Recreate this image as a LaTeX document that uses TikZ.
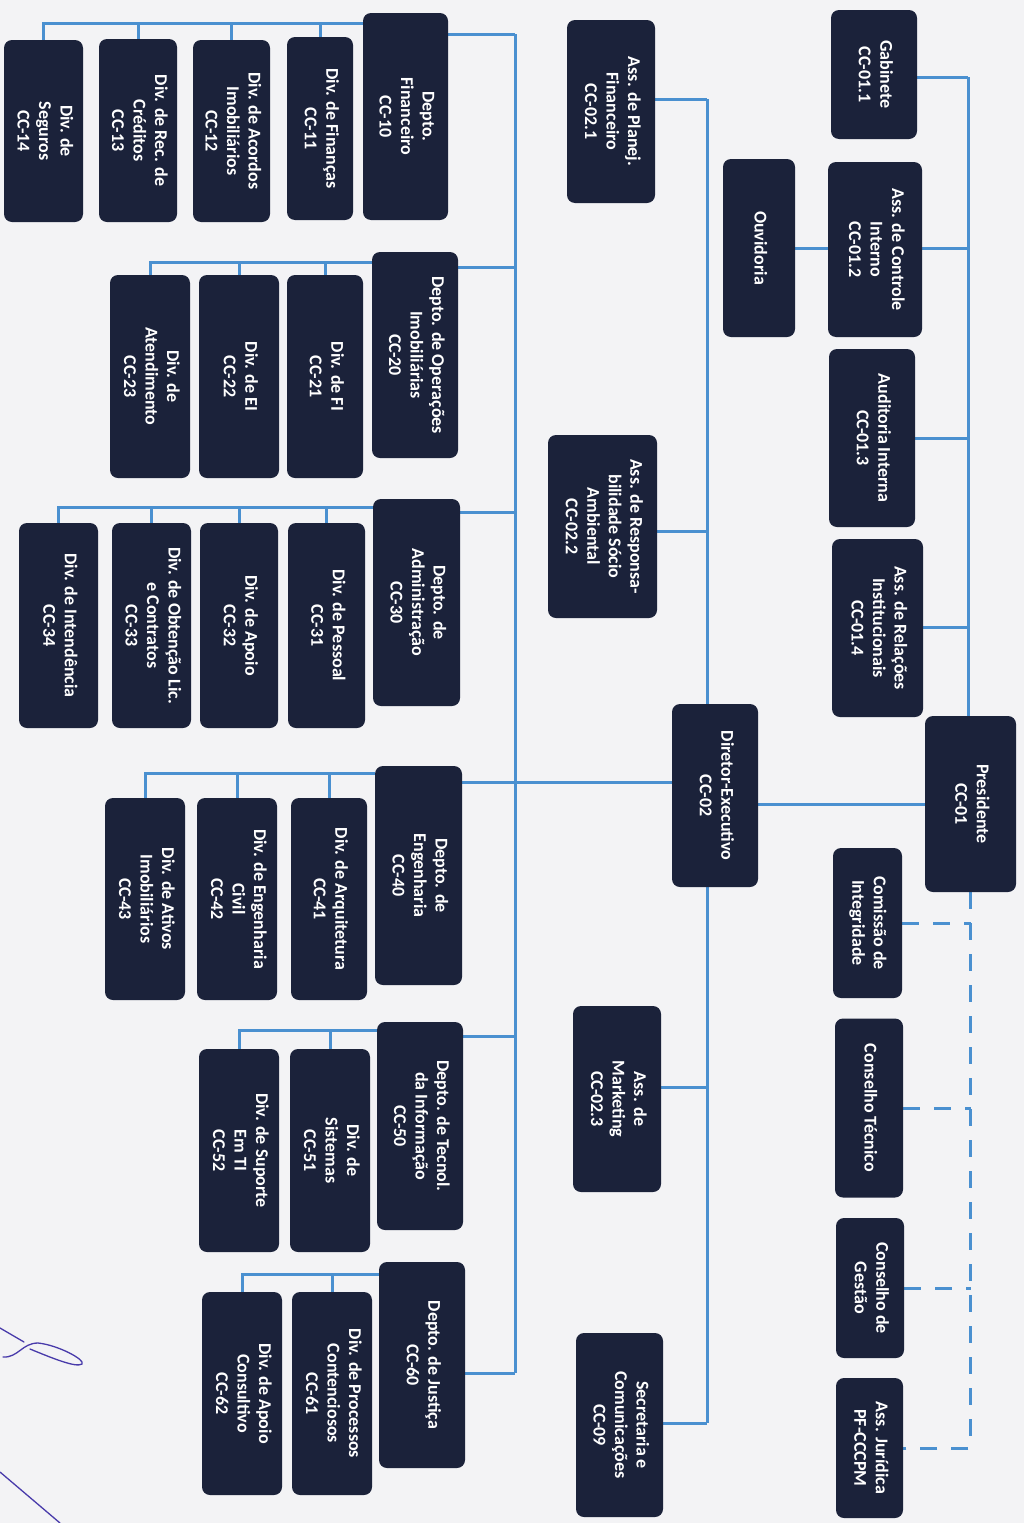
\documentclass[tikz,border=0pt]{standalone}
\usepackage{fontspec}
\usepackage{graphicx}
\setmainfont{Carlito}
\usetikzlibrary{calc}
\definecolor{navy}{RGB}{27,34,58}
\definecolor{lblue}{RGB}{74,144,208}
\definecolor{bgc}{RGB}{243,243,245}
\definecolor{ink}{RGB}{72,58,170}
\pgfdeclarelayer{back}
\pgfdeclarelayer{lines}
\pgfsetlayers{back,lines,main}
\newcommand{\boxtxt}[1]{\rotatebox{-90}{\begin{tabular}{@{}c@{}}#1\end{tabular}}}
\newcommand{\orgbox}[6]{\node[org, minimum width=#4pt, minimum height=#5pt] (#1) at (#2,#3) {\boxtxt{#6}};}
\tikzset{
  org/.style={rectangle, rounded corners=8pt, fill=navy, text=white, inner sep=0pt,
    font=\fontsize{18}{21.5}\selectfont\bfseries},
  conn/.style={draw=lblue, line width=3pt},
  dconn/.style={conn, dash pattern=on 17pt off 14pt}
}
\begin{document}
\begin{tikzpicture}[x=1pt,y=-1pt]
\begin{pgfonlayer}{back}
\fill[bgc] (0,0) rectangle (1024,1523);
\end{pgfonlayer}
\useasboundingbox (0,0) rectangle (1024,1523);

% ---------- President column ----------
\orgbox{pres}{970.5}{804}{91}{176}{Presidente\\CC-01}
\orgbox{gab}{874}{74.5}{86}{129}{Gabinete\\CC-01.1}
\orgbox{aci}{875}{249.5}{94}{175}{Ass. de Controle\\Interno\\CC-01.2}
\orgbox{ouv}{759}{248}{72}{178}{Ouvidoria}
\orgbox{aud}{872}{438}{86}{178}{Auditoria Interna\\CC-01.3}
\orgbox{ari}{877.5}{628}{91}{178}{Ass. de Relações\\Institucionais\\CC-01.4}
\orgbox{com}{867.5}{923}{69}{150}{Comissão de\\Integridade}
\orgbox{ct}{869}{1108}{68}{179}{Conselho Técnico}
\orgbox{cg}{870}{1288}{68}{140}{Conselho de\\Gestão}
\orgbox{aj}{869.5}{1448}{67}{140}{Ass. Jurídica\\PF-CCCPM}

% ---------- Director column ----------
\orgbox{dir}{715}{795.5}{86}{183}{Diretor-Executivo\\CC-02}
\orgbox{a021}{611}{111.5}{88}{183}{Ass. de Planej.\\Financeiro\\CC-02.1}
\orgbox{a022}{602.5}{526.5}{109}{183}{Ass. de Responsa-\\bilidade Sócio\\Ambiental\\CC-02.2}
\orgbox{a023}{617}{1099}{88}{186}{Ass. de\\Marketing\\CC-02.3}
\orgbox{sec}{619.5}{1425}{87}{184}{Secretaria e\\Comunicações\\CC-09}

% ---------- Departments ----------
\orgbox{fin}{405.5}{116.5}{85}{207}{Depto.\\Financeiro\\CC-10}
\orgbox{d11}{320}{128.5}{66}{183}{Div. de Finanças\\CC-11}
\orgbox{d12}{231.5}{131}{77}{182}{Div. de Acordos\\Imobiliários\\CC-12}
\orgbox{d13}{138}{130.5}{78}{183}{Div. de Rec. de\\Créditos\\CC-13}
\orgbox{d14}{43.5}{131}{79}{182}{Div. de\\Seguros\\CC-14}

\orgbox{op}{415}{355}{86}{206}{Depto. de Operações\\Imobiliárias\\CC-20}
\orgbox{d21}{325}{376.5}{76}{203}{Div. de FI\\CC-21}
\orgbox{d22}{239}{376.5}{80}{203}{Div. de EI\\CC-22}
\orgbox{d23}{150}{376.5}{80}{203}{Div. de\\Atendimento\\CC-23}

\orgbox{adm}{416.5}{602.5}{87}{207}{Depto. de\\Administração\\CC-30}
\orgbox{d31}{326.5}{625.5}{77}{205}{Div. de Pessoal\\CC-31}
\orgbox{d32}{239}{625.5}{78}{205}{Div. de Apoio\\CC-32}
\orgbox{d33}{151.5}{625.5}{79}{205}{Div. de Obtenção Lic.\\e Contratos\\CC-33}
\orgbox{d34}{58.5}{625.5}{79}{205}{Div. de Intendência\\CC-34}

\orgbox{eng}{418.5}{875.5}{87}{219}{Depto. de\\Engenharia\\CC-40}
\orgbox{d41}{329}{899}{76}{202}{Div. de Arquitetura\\CC-41}
\orgbox{d42}{237}{899}{80}{202}{Div. de Engenharia\\Civil\\CC-42}
\orgbox{d43}{145}{899}{80}{202}{Div. de Ativos\\Imobiliários\\CC-43}

\orgbox{ti}{420}{1126}{86}{208}{Depto. de Tecnol.\\da Informação\\CC-50}
\orgbox{d51}{330}{1150.5}{80}{203}{Div. de\\Sistemas\\CC-51}
\orgbox{d52}{239}{1150.5}{80}{203}{Div. de Suporte\\Em TI\\CC-52}

\orgbox{jus}{422}{1365}{86}{206}{Depto. de Justiça\\CC-60}
\orgbox{d61}{332}{1393.5}{80}{203}{Div. de Processos\\Contenciosos\\CC-61}
\orgbox{d62}{242}{1393.5}{80}{203}{Div. de Apoio\\Consultivo\\CC-62}

% ---------- junction coordinates ----------
\coordinate (b1) at (0,23);
\coordinate (b2) at (0,262);
\coordinate (b3) at (0,507);
\coordinate (b4) at (0,773);
\coordinate (b5) at (0,1030);
\coordinate (b6) at (0,1274);
\coordinate (m1) at (515,34);
\coordinate (m2) at (515,267);
\coordinate (m3) at (515,512);
\coordinate (m4) at (515,782);
\coordinate (m5) at (515,1036);
\coordinate (m6) at (515,1373);
\coordinate (dtop) at (707,99);
\coordinate (da2) at (707,531);
\coordinate (da3) at (707,1087);
\coordinate (dbot) at (707,1423);
\coordinate (ptop) at (968,77);
\coordinate (pj2) at (968,248);
\coordinate (pj3) at (968,438);
\coordinate (pj4) at (968,627);

\begin{pgfonlayer}{lines}
% department buses
\draw[conn] (fin.west |- b1) -| (d14.north);
\foreach \c in {d11,d12,d13} \draw[conn] (\c.north) -- (\c.north |- b1);
\draw[conn] (op.west |- b2) -| (d23.north);
\foreach \c in {d21,d22} \draw[conn] (\c.north) -- (\c.north |- b2);
\draw[conn] (adm.west |- b3) -| (d34.north);
\foreach \c in {d31,d32,d33} \draw[conn] (\c.north) -- (\c.north |- b3);
\draw[conn] (eng.west |- b4) -| (d43.north);
\foreach \c in {d41,d42} \draw[conn] (\c.north) -- (\c.north |- b4);
\draw[conn] (ti.west |- b5) -| (d52.north);
\draw[conn] (d51.north) -- (d51.north |- b5);
\draw[conn] (jus.west |- b6) -| (d62.north);
\draw[conn] (d61.north) -- (d61.north |- b6);
% main bus to director
\draw[conn] (m1) -- (m6);
\draw[conn] (fin.east |- m1) -- (m1);
\draw[conn] (op.east |- m2) -- (m2);
\draw[conn] (adm.east |- m3) -- (m3);
\draw[conn] (eng.east |- m4) -- (dir.west |- m4);
\draw[conn] (ti.east |- m5) -- (m5);
\draw[conn] (jus.east |- m6) -- (m6);
% director assistants
\draw[conn] (dtop) -- (dbot);
\draw[conn] (a021.east |- dtop) -- (dtop);
\draw[conn] (a022.east |- da2) -- (da2);
\draw[conn] (a023.east |- da3) -- (da3);
\draw[conn] (sec.east |- dbot) -- (dbot);
% president
\draw[conn] (ptop) -- (ptop |- pres.north);
\draw[conn] (gab.east |- ptop) -- (ptop);
\draw[conn] (ouv.east |- pj2) -- (pj2);
\draw[conn] (aud.east |- pj3) -- (pj3);
\draw[conn] (ari.east |- pj4) -- (pj4);
\draw[conn] (dir.east |- pres.west) -- (pres.west);
% dashed councils
\draw[dconn] (pres.south) |- (aj.east);
\draw[dconn] (com.east) -- (com.east -| pres.south);
\draw[dconn] (ct.east) -- (ct.east -| pres.south);
\draw[dconn] (cg.east) -- (cg.east -| pres.south);
\end{pgfonlayer}

% signature strokes
\draw[ink, line width=1.3pt, line cap=round] (0,1328) -- (24,1342);
\draw[ink, line width=1.3pt, line cap=round] (3,1357) .. controls (18,1358) and (22,1343) .. (38,1343)
  .. controls (58,1345) and (86,1360) .. (82,1364) .. controls (76,1368) and (52,1358) .. (30,1349);
\draw[ink, line width=1.3pt, line cap=round] (0,1472) -- (60,1523);
\end{tikzpicture}
\end{document}
